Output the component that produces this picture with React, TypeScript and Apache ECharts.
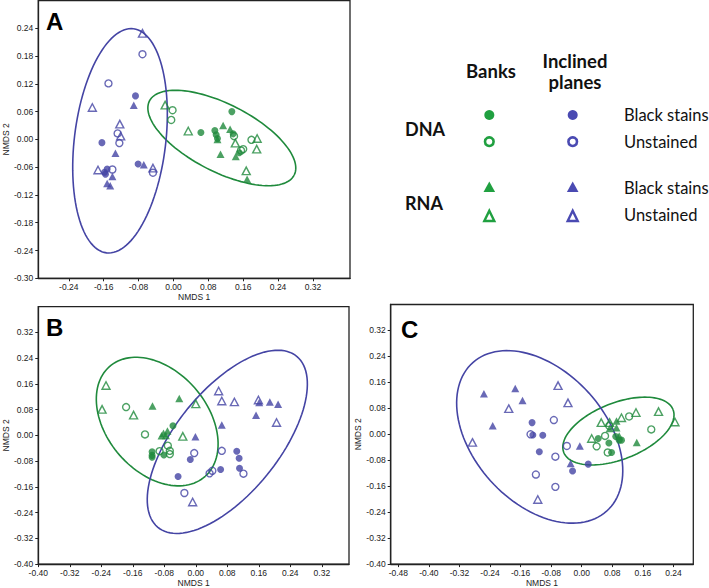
import React, { useEffect, useRef } from 'react';
import * as echarts from 'echarts';

const GREEN = '#1f8a3c';
const BLUE = '#4444a4';
const LEG_GREEN = '#20a040';
const LEG_BLUE = '#4a4ab2';

// ---------- Tick labels ----------
const A_xTicks = [-0.24, -0.16, -0.08, 0, 0.08, 0.16, 0.24, 0.32];
const A_yTicks = [-0.3, -0.24, -0.18, -0.12, -0.06, 0, 0.06, 0.12, 0.18, 0.24];
const B_xTicks = [-0.4, -0.32, -0.24, -0.16, -0.08, 0, 0.08, 0.16, 0.24, 0.32];
const B_yTicks = [-0.4, -0.32, -0.24, -0.16, -0.08, 0, 0.08, 0.16, 0.24, 0.32];
const C_xTicks = [-0.48, -0.4, -0.32, -0.24, -0.16, -0.08, 0, 0.08, 0.16, 0.24];
const C_yTicks = [-0.4, -0.32, -0.24, -0.16, -0.08, 0, 0.08, 0.16, 0.24, 0.32];

// ---------- Panel A [NMDS1, NMDS2] ----------
const A_banksDnaBlack = [[0.134, 0.060], [0.063, 0.015], [0.095, 0.019], [0.098, 0.010], [0.101, 0.002], [0.137, 0.012], [0.151, -0.029]];
const A_banksDnaUnst = [[-0.002, 0.063], [-0.005, 0.042], [0.139, 0.007], [0.155, -0.024], [0.160, -0.021], [0.179, -0.001]];
const A_banksRnaBlack = [[0.114, 0.030], [0.130, 0.022], [0.101, 0.000], [0.108, -0.032], [0.143, -0.037], [0.169, -0.086]];
const A_banksRnaUnst = [[-0.019, 0.074], [0.034, 0.018], [0.142, -0.008], [0.192, 0.002], [0.191, -0.021], [0.167, -0.068]];
const A_inclDnaBlack = [[-0.087, 0.094], [-0.164, -0.007], [-0.081, -0.053], [-0.152, -0.064], [-0.156, -0.075], [-0.158, -0.071]];
const A_inclDnaUnst = [[-0.071, 0.184], [-0.149, 0.121], [-0.128, 0.013], [-0.124, -0.008], [-0.047, -0.072], [-0.140, -0.065]];
const A_inclRnaBlack = [[-0.091, 0.074], [-0.133, -0.030], [-0.068, -0.055], [-0.140, -0.080], [-0.152, -0.095], [-0.145, -0.100]];
const A_inclRnaUnst = [[-0.071, 0.229], [-0.186, 0.069], [-0.123, 0.033], [-0.121, 0.007], [-0.047, -0.062], [-0.173, -0.066]];

// ---------- Panel B ----------
const B_banksDnaBlack = [[-0.058, 0.030], [-0.111, -0.051], [-0.111, -0.062], [-0.111, -0.068], [-0.081, -0.061]];
const B_banksDnaUnst = [[-0.177, 0.088], [-0.129, 0.003], [-0.071, -0.032], [-0.092, -0.049], [-0.066, -0.048], [-0.066, -0.058]];
const B_banksRnaBlack = [[-0.110, 0.091], [-0.042, 0.115], [-0.072, 0.014], [-0.082, 0.007], [-0.087, -0.001], [-0.076, 0.000]];
const B_banksRnaUnst = [[-0.228, 0.155], [-0.238, 0.081], [-0.158, 0.063], [0.000, 0.098], [-0.033, -0.003]];
const B_inclDnaBlack = [[-0.014, -0.075], [0.104, -0.049], [0.110, -0.071], [0.063, -0.106], [0.111, -0.102], [-0.045, -0.128]];
const B_inclDnaUnst = [[-0.004, -0.055], [0.066, -0.048], [0.121, -0.119], [0.035, -0.118], [0.042, -0.110], [-0.029, -0.179]];
const B_inclRnaBlack = [[0.161, 0.102], [0.188, 0.104], [0.209, 0.097], [0.153, 0.063], [0.066, 0.032], [-0.001, -0.004]];
const B_inclRnaUnst = [[0.058, 0.138], [0.066, 0.107], [0.098, 0.104], [0.159, 0.110], [0.205, 0.040], [-0.008, -0.207]];

// ---------- Panel C ----------
const C_banksDnaBlack = [[0.043, -0.013], [0.089, -0.007], [0.098, -0.018], [0.104, -0.018], [0.071, -0.027], [0.078, -0.056]];
const C_banksDnaUnst = [[0.124, 0.055], [0.182, 0.015], [0.061, -0.005], [0.039, -0.037], [0.068, -0.056], [0.072, 0.026]];
const C_banksRnaBlack = [[0.091, 0.041], [0.073, 0.018], [0.091, 0.020], [0.098, -0.005], [0.144, -0.025]];
const C_banksRnaUnst = [[0.051, 0.036], [0.073, 0.036], [0.104, 0.051], [0.142, 0.067], [0.201, 0.070], [0.244, 0.038], [0.026, -0.013]];
const C_inclDnaBlack = [[-0.130, 0.036], [-0.128, -0.002], [-0.102, -0.003], [-0.111, -0.054], [-0.024, -0.113], [0.017, -0.092]];
const C_inclDnaUnst = [[-0.073, 0.044], [-0.134, 0.000], [-0.069, -0.069], [-0.039, -0.036], [-0.120, -0.124], [-0.069, -0.162]];
const C_inclRnaBlack = [[-0.256, 0.125], [-0.174, 0.141], [-0.155, 0.104], [-0.233, 0.026], [-0.005, -0.036], [-0.029, -0.090]];
const C_inclRnaUnst = [[-0.191, 0.079], [-0.286, -0.025], [-0.062, 0.150], [-0.036, 0.097], [-0.115, -0.201]];

// ---------- Ellipses: [centerX, centerY, axis1X, axis1Y, axis2X, axis2Y] in data units ----------
const A_ellipseBanks = [0.111, 0.003, 0.166, -0.080, -0.035, -0.065];
const A_ellipseIncl = [-0.1225, -0.003, 0.031, 0.242, 0.104, -0.012];
const B_ellipseBanks = [-0.098, 0.043, 0.122, -0.170, -0.095, -0.105];
const B_ellipseIncl = [0.080, -0.020, 0.177, 0.265, 0.100, -0.104];
const C_ellipseBanks = [0.096, 0.010, 0.143, 0.066, 0.027, -0.081];
const C_ellipseIncl = [-0.110, -0.008, 0.175, -0.229, -0.129, -0.135];

const FONT = '"Liberation Sans", Arial, sans-serif';
const LEG_FONT = 'Lato, "Open Sans", sans-serif';
const AX = '#222';

function fmt(v: number) {
  return v.toFixed(2);
}

function scatter(data: number[][], gi: number, symbol: string, filled: boolean, color: string) {
  const tri = symbol === 'triangle';
  return {
    type: 'scatter',
    xAxisIndex: gi,
    yAxisIndex: gi,
    data,
    symbol,
    symbolSize: tri ? [8, 7.5] : 7,
    z: 3,
    itemStyle: filled
      ? { color, borderWidth: 0 }
      : { color: 'rgba(255,255,255,0)', borderColor: color, borderWidth: 1.4 },
    emphasis: { disabled: true },
  };
}

function ellipse(params: number[], gi: number, color: string) {
  return {
    type: 'custom',
    xAxisIndex: gi,
    yAxisIndex: gi,
    z: 2,
    silent: true,
    data: [params],
    renderItem: (_p: any, api: any) => {
      const cx = api.value(0), cy = api.value(1);
      const ux = api.value(2), uy = api.value(3);
      const vx = api.value(4), vy = api.value(5);
      const pts: number[][] = [];
      const n = 120;
      for (let i = 0; i <= n; i++) {
        const t = (i / n) * Math.PI * 2;
        pts.push(api.coord([cx + ux * Math.cos(t) + vx * Math.sin(t), cy + uy * Math.cos(t) + vy * Math.sin(t)]));
      }
      return { type: 'polyline', shape: { points: pts }, style: { fill: 'none', stroke: color, lineWidth: 1.6 } };
    },
  };
}

function xAxis(gi: number, min: number, max: number, ticks: number[]) {
  return {
    type: 'value', gridIndex: gi, min, max,
    name: 'NMDS 1', nameLocation: 'middle', nameGap: 12,
    nameTextStyle: { fontFamily: FONT, fontSize: 8.5, color: AX },
    axisLine: { show: true, onZero: false, lineStyle: { color: AX, width: 1.3 } },
    axisTick: { show: true, length: 3, customValues: ticks, lineStyle: { color: AX, width: 1 } },
    axisLabel: { customValues: ticks, formatter: fmt, fontFamily: FONT, fontSize: 8.5, color: AX, margin: 4 },
    splitLine: { show: false },
  };
}

function yAxis(gi: number, min: number, max: number, ticks: number[], gap: number) {
  return {
    type: 'value', gridIndex: gi, min, max,
    name: 'NMDS 2', nameLocation: 'middle', nameGap: gap, nameRotate: 90,
    nameTextStyle: { fontFamily: FONT, fontSize: 8.5, color: AX },
    axisLine: { show: true, onZero: false, lineStyle: { color: AX, width: 1.3 } },
    axisTick: { show: true, length: 3, customValues: ticks, lineStyle: { color: AX, width: 1 } },
    axisLabel: { customValues: ticks, formatter: fmt, fontFamily: FONT, fontSize: 8.5, color: AX, margin: 5 },
    splitLine: { show: false },
  };
}

function legendText(text: string, x: number, y: number, size: number, bold: boolean, align = 'left') {
  return {
    type: 'text', x, y,
    style: { text, fontFamily: LEG_FONT, fontSize: size, fontWeight: bold ? 'bold' : 'normal', fill: '#111', align, verticalAlign: 'middle' },
  };
}

function legCircle(x: number, y: number, filled: boolean, color: string) {
  return filled
    ? { type: 'circle', shape: { cx: x, cy: y, r: 5 }, style: { fill: color } }
    : { type: 'circle', shape: { cx: x, cy: y, r: 4.3 }, style: { fill: 'none', stroke: color, lineWidth: 2.6 } };
}

function legTri(x: number, y: number, filled: boolean, color: string) {
  if (filled) {
    return { type: 'polygon', shape: { points: [[x, y - 5.5], [x + 5.8, y + 5], [x - 5.8, y + 5]] }, style: { fill: color } };
  }
  return { type: 'polygon', shape: { points: [[x, y - 5.2], [x + 5, y + 5], [x - 5, y + 5]] }, style: { fill: 'none', stroke: color, lineWidth: 2.4, lineJoin: 'miter' } };
}

function panelLetter(t: string, x: number, y: number) {
  return { type: 'text', x, y, style: { text: t, fontFamily: FONT, fontSize: 24, fontWeight: 'bold', fill: '#000', align: 'left', verticalAlign: 'middle' } };
}

export default function App() {
  const ref = useRef<HTMLDivElement>(null);
  useEffect(() => {
    if (!ref.current) return;
    const chart = echarts.init(ref.current, undefined, { renderer: 'svg' });
    const grids = [
      { left: 35, top: 0.5, width: 315, height: 277.8 },
      { left: 31, top: 306.7, width: 318, height: 259.3 },
      { left: 390.7, top: 304.5, width: 302.6, height: 261.2 },
    ].map((g) => ({ ...g, show: true, borderColor: AX, borderWidth: 1.3, backgroundColor: '#fff', containLabel: false }));

    const panels: any[][] = [
      [A_banksDnaBlack, A_banksDnaUnst, A_banksRnaBlack, A_banksRnaUnst, A_inclDnaBlack, A_inclDnaUnst, A_inclRnaBlack, A_inclRnaUnst],
      [B_banksDnaBlack, B_banksDnaUnst, B_banksRnaBlack, B_banksRnaUnst, B_inclDnaBlack, B_inclDnaUnst, B_inclRnaBlack, B_inclRnaUnst],
      [C_banksDnaBlack, C_banksDnaUnst, C_banksRnaBlack, C_banksRnaUnst, C_inclDnaBlack, C_inclDnaUnst, C_inclRnaBlack, C_inclRnaUnst],
    ];
    const ellipses = [
      [A_ellipseBanks, A_ellipseIncl],
      [B_ellipseBanks, B_ellipseIncl],
      [C_ellipseBanks, C_ellipseIncl],
    ];
    const series: any[] = [];
    panels.forEach((p, gi) => {
      series.push(ellipse(ellipses[gi][0], gi, GREEN));
      series.push(ellipse(ellipses[gi][1], gi, BLUE));
      const styles: [string, boolean, string][] = [
        ['circle', true, GREEN], ['circle', false, GREEN], ['triangle', true, GREEN], ['triangle', false, GREEN],
        ['circle', true, BLUE], ['circle', false, BLUE], ['triangle', true, BLUE], ['triangle', false, BLUE],
      ];
      p.forEach((d, i) => series.push(scatter(d, gi, styles[i][0], styles[i][1], styles[i][2])));
    });

    const graphic: any[] = [
      panelLetter('A', 46, 21.5),
      panelLetter('B', 46, 327),
      panelLetter('C', 401, 329),
      legendText('Banks', 491, 70.7, 18.5, true, 'center'),
      legendText('Inclined', 575, 61, 18.5, true, 'center'),
      legendText('planes', 575, 81.7, 18.5, true, 'center'),
      legendText('DNA', 405, 129, 18, true),
      legendText('RNA', 405, 203, 18, true),
      legendText('Black stains', 624, 115, 16.5, false),
      legendText('Unstained', 624, 141.7, 16.5, false),
      legendText('Black stains', 624, 188, 16.5, false),
      legendText('Unstained', 624, 215, 16.5, false),
      legCircle(489.3, 115, true, LEG_GREEN),
      legCircle(489.3, 141.7, false, LEG_GREEN),
      legTri(489.3, 187, true, LEG_GREEN),
      legTri(489.3, 216, false, LEG_GREEN),
      legCircle(572.7, 115, true, LEG_BLUE),
      legCircle(572.7, 141.7, false, LEG_BLUE),
      legTri(572.7, 187, true, LEG_BLUE),
      legTri(572.7, 216, false, LEG_BLUE),
    ];

    chart.setOption({
      animation: false,
      backgroundColor: '#fff',
      grid: grids,
      xAxis: [
        xAxis(0, -0.31, 0.405, A_xTicks),
        xAxis(1, -0.4, 0.389, B_xTicks),
        xAxis(2, -0.5, 0.292, C_xTicks),
      ],
      yAxis: [
        yAxis(0, -0.3, 0.3, A_yTicks, 23),
        yAxis(1, -0.4, 0.4, B_yTicks, 23),
        yAxis(2, -0.4, 0.4, C_yTicks, 26),
      ],
      series,
      graphic,
    });
    return () => chart.dispose();
  }, []);
  return <div ref={ref} style={{ position: 'absolute', left: 0, top: 0, width: 709, height: 588 }} />;
}
